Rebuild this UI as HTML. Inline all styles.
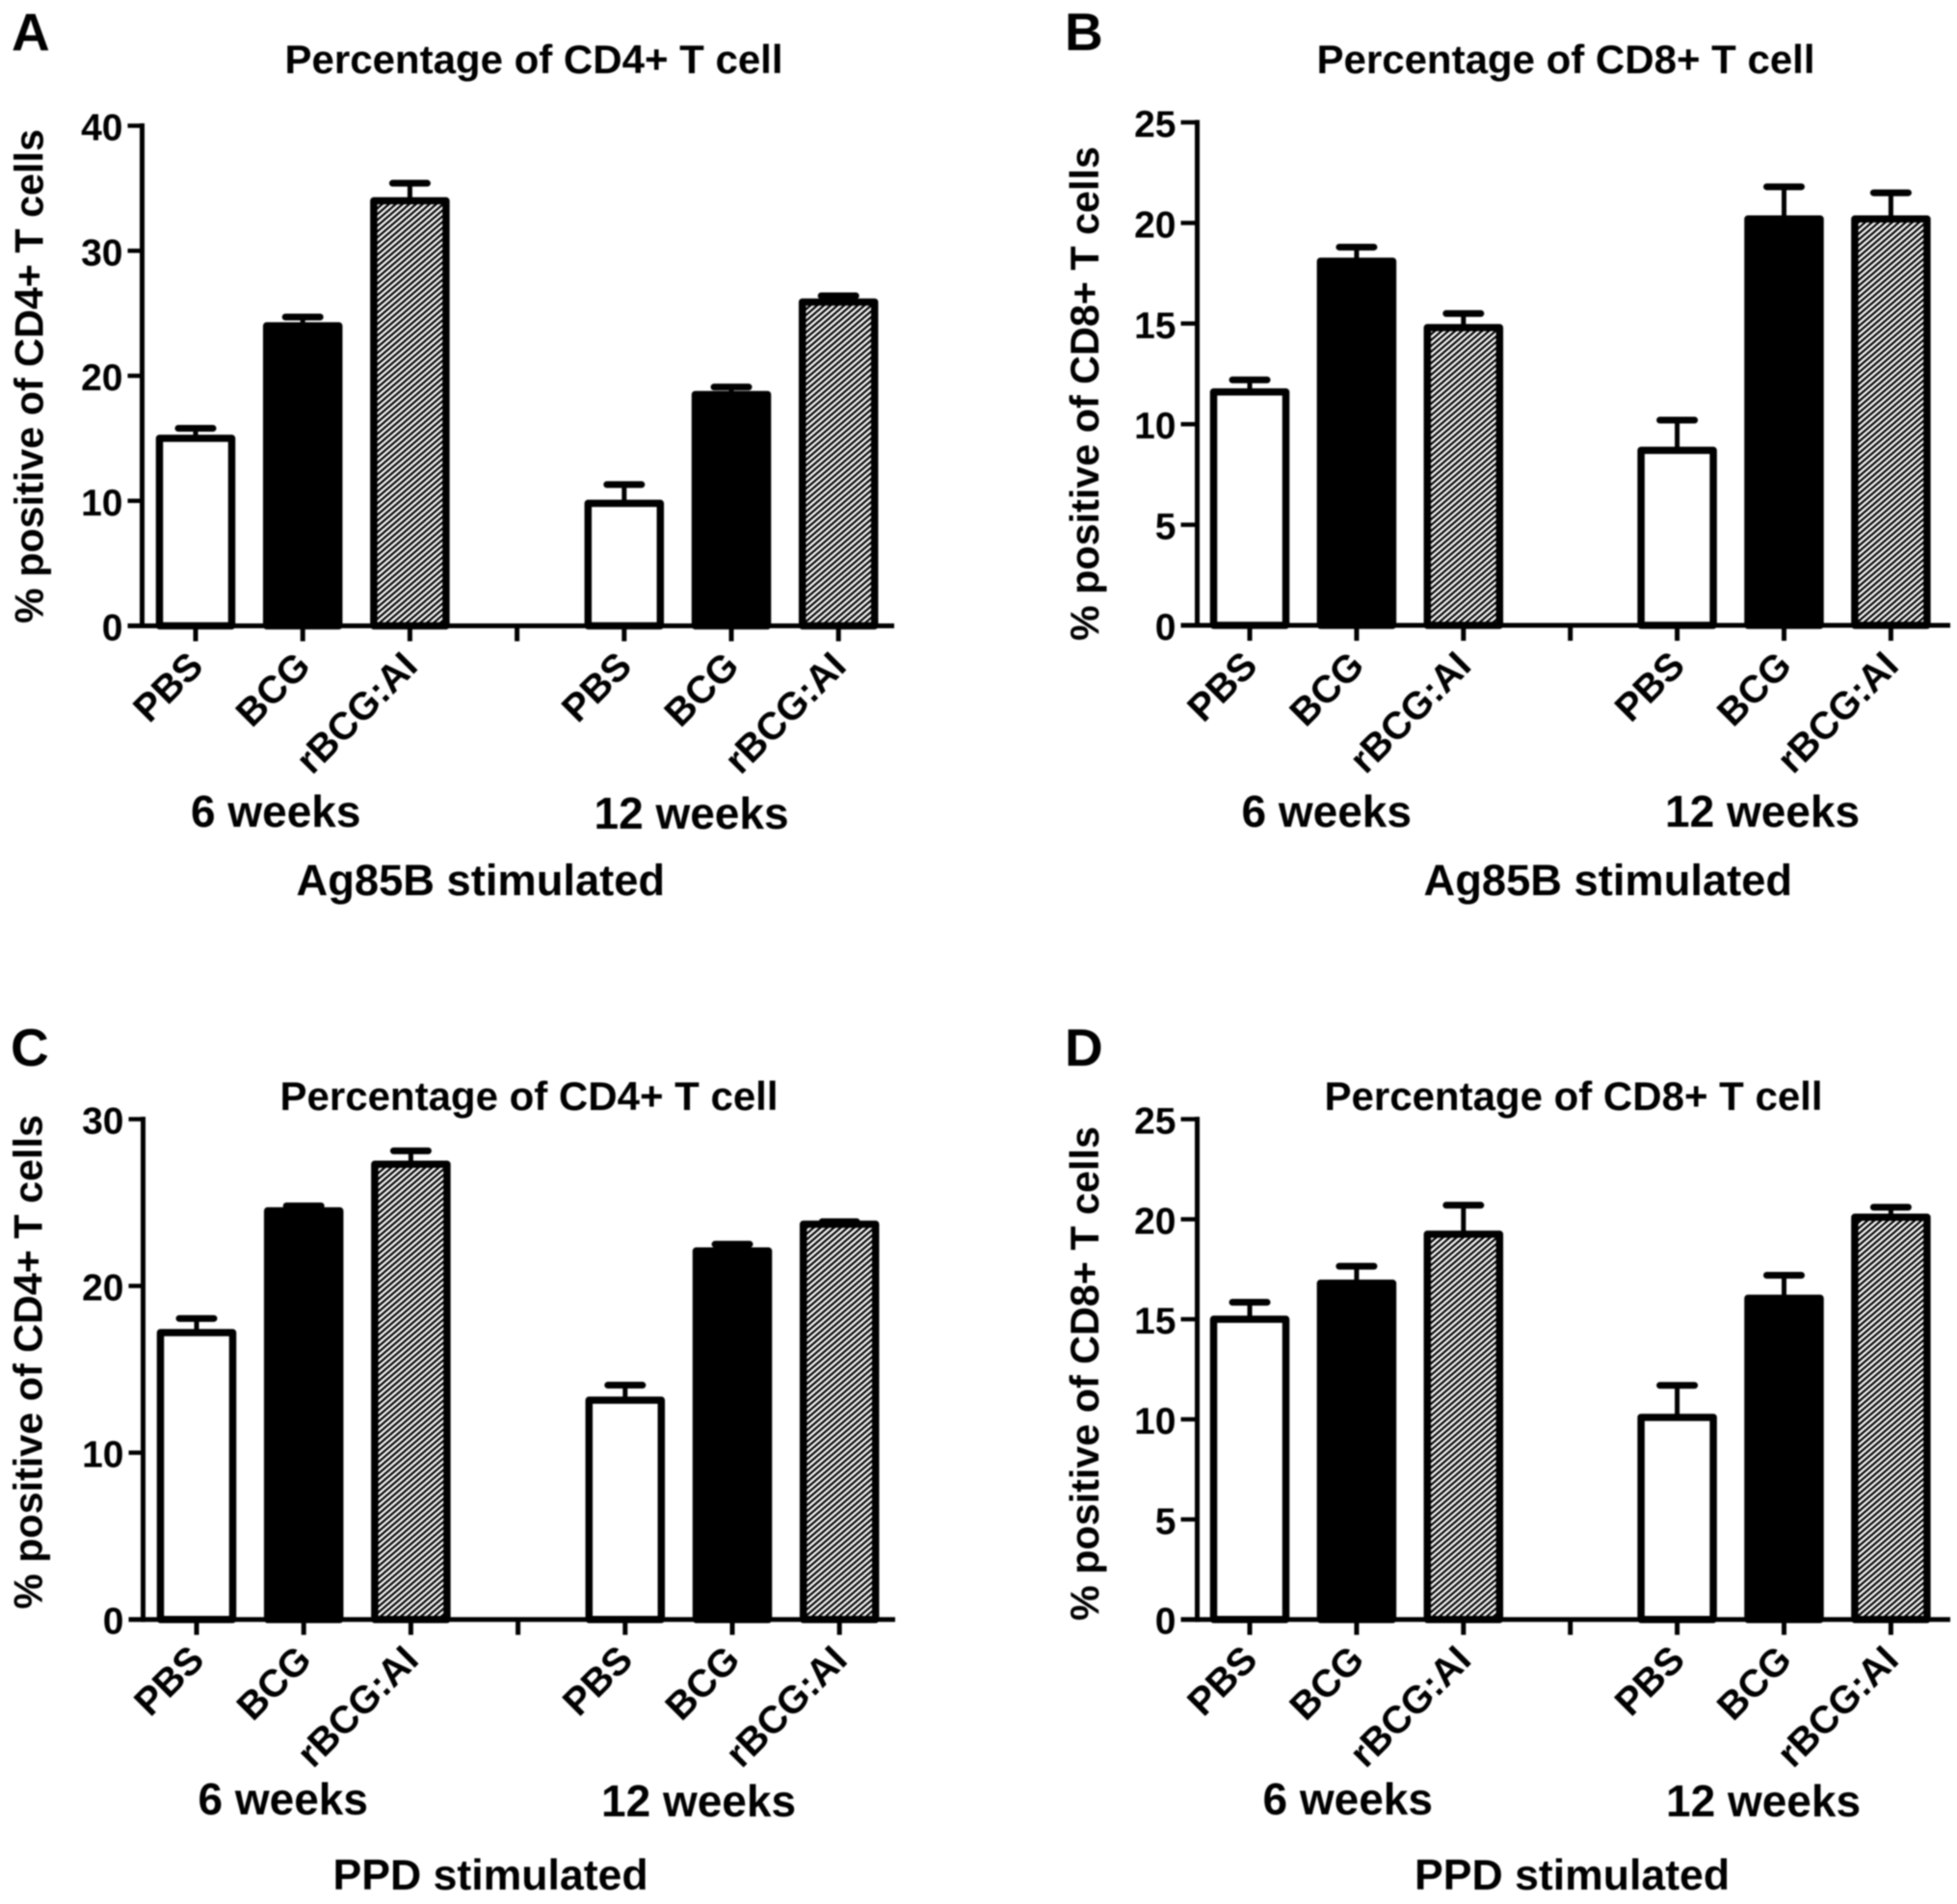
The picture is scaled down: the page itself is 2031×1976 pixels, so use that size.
<!DOCTYPE html>
<html lang="en">
<head>
<meta charset="utf-8">
<title>T cell percentages</title>
<style>
  html, body { margin: 0; padding: 0; background: #fff; }
  #figure { display: block; width: 2031px; height: 1976px; filter: blur(0.7px); }
  text { font-family: "Liberation Sans", Arial, sans-serif; font-weight: bold; fill: #000; }
</style>
</head>
<body>
<svg id="figure" xmlns="http://www.w3.org/2000/svg" width="2031" height="1976" viewBox="0 0 2031 1976">
  <defs>
    <pattern id="hatch" patternUnits="userSpaceOnUse" width="7" height="6">
      <rect width="7" height="6" fill="#fff"></rect>
      <path d="M-1.75,1.5 L1.75,-1.5 M0,6 L7,0 M5.25,7.5 L8.75,4.5" stroke="#000" stroke-width="2.2" fill="none"></path>
    </pattern>
  </defs>
  <rect width="2031" height="1976" fill="#fff"></rect>
</svg>
<script>
// ---- chart data ----
const categories = ['PBS', 'BCG', 'rBCG:AI', '', 'PBS', 'BCG', 'rBCG:AI'];
const barKinds = ['white', 'black', 'hatch', '', 'white', 'black', 'hatch'];
const groupLabels = ['6 weeks', '12 weeks'];

const ticksA = [0, 10, 20, 30, 40];
const valuesA = [15.0, 24.0, 34.0, null, 9.8, 18.5, 25.9];
const upperA = [15.8, 24.7, 35.4, null, 11.3, 19.1, 26.4];

const ticksB = [0, 5, 10, 15, 20, 25];
const valuesB = [11.6, 18.1, 14.8, null, 8.7, 20.2, 20.2];
const upperB = [12.2, 18.8, 15.5, null, 10.2, 21.8, 21.5];

const ticksC = [0, 10, 20, 30];
const valuesC = [17.2, 24.5, 27.3, null, 13.15, 22.1, 23.7];
const upperC = [18.05, 24.8, 28.1, null, 14.05, 22.5, 23.85];

const ticksD = [0, 5, 10, 15, 20, 25];
const valuesD = [15.0, 16.8, 19.25, null, 10.1, 16.05, 20.1];
const upperD = [15.85, 17.65, 20.7, null, 11.7, 17.2, 20.6];

// ---- drawing ----
const NS = 'http://www.w3.org/2000/svg';
const root = document.getElementById('figure');

function make(tag, geometry, parent) {
  const node = document.createElementNS(NS, tag);
  for (const key in geometry) node.setAttribute(key, geometry[key]);
  parent.appendChild(node);
  return node;
}

function drawPanel(p) {
  const g = make('g', {}, root);
  
  

  const yMax = Math.max(...p.ticks);
  const yScale = v => p.y0 - (v / yMax) * (p.y0 - p.yTop);
  const xScale = i => p.x0 + i * p.step;

  // panel letter
  const letter = make('text', { x: p.letterX, y: p.letterY, 'font-size': 55 }, g);
  letter.textContent = p.id;
  
  

  // title
  const title = make('text', { x: p.titleX, y: p.titleY, 'font-size': 42 }, g);
  title.textContent = p.title;
  
  

  // y-axis title
  const yTitle = make('text', {
    transform: 'translate(' + p.yTitleX + ',' + p.yTitleY + ') rotate(-90)',
    'font-size': 41.3
  }, g);
  yTitle.textContent = p.yTitle;
  
  

  // bars and error bars
  p.values.forEach((v, i) => {
    if (v === null) return;
    const cx = xScale(i);
    const top = yScale(v);
    const capY = yScale(p.upper[i]);

    const stem = make('line', { x1: cx, x2: cx, y1: top, y2: capY, stroke: '#000', 'stroke-width': 5 }, g);
    
    

    const cap = make('line', {
      x1: cx - 18, x2: cx + 18, y1: capY, y2: capY,
      stroke: '#000', 'stroke-width': 7, 'stroke-linecap': 'round'
    }, g);
    
    

    const kind = barKinds[i];
    const fill = kind === 'white' ? '#fff' : kind === 'black' ? '#000' : 'url(#hatch)';
    const bar = make('rect', {
      x: cx - 37.5, y: top, width: 75, height: Math.max(0, p.y0 - top),
      fill: fill, stroke: '#000', 'stroke-width': 7.5, 'stroke-linejoin': 'round'
    }, g);
    
    
  });

  // y axis
  const yAxis = make('line', {
    x1: p.axisX, x2: p.axisX, y1: p.yTop - 2.5, y2: p.y0 + 2.5, stroke: '#000', 'stroke-width': 5
  }, g);
  
  

  p.ticks.forEach(t => {
    const y = yScale(t);
    const mark = make('line', { x1: p.axisX - p.tickLen, x2: p.axisX, y1: y, y2: y, stroke: '#000', 'stroke-width': 4.5 }, g);
    
    

    const label = make('text', {
      x: p.axisX - p.tickLen - 5, y: y + 15, 'font-size': 39, 'text-anchor': 'end'
    }, g);
    label.textContent = String(t);
    
    
  });

  // x axis
  const xAxis = make('line', {
    x1: p.axisX - p.tickLen, x2: p.xEnd, y1: p.y0, y2: p.y0, stroke: '#000', 'stroke-width': 5
  }, g);
  
  

  categories.forEach((name, i) => {
    const x = xScale(i);
    const mark = make('line', { x1: x, x2: x, y1: p.y0, y2: p.y0 + 16, stroke: '#000', 'stroke-width': 5 }, g);
    
    
    if (!name) return;
    const label = make('text', {
      transform: 'translate(' + (x + 10) + ',' + (p.y0 + 44) + ') rotate(-45)',
      'font-size': 40, 'text-anchor': 'end'
    }, g);
    label.textContent = name;
    
    
  });

  // group labels
  const groupA = make('text', { x: p.group1X, y: p.group1Y, 'font-size': 46 }, g);
  groupA.textContent = groupLabels[0];
  
  

  const groupB = make('text', { x: p.group2X, y: p.group2Y, 'font-size': 46 }, g);
  groupB.textContent = groupLabels[1];
  
  

  // x-axis title
  const xTitle = make('text', { x: p.xTitleX, y: p.xTitleY, 'font-size': p.xTitleSize }, g);
  xTitle.textContent = p.xTitle;
  
  
}

drawPanel({
  id: 'A', title: 'Percentage of CD4+ T cell', yTitle: '% positive of CD4+ T cells', xTitle: 'Ag85B stimulated',
  ticks: ticksA, values: valuesA, upper: upperA,
  axisX: 147.5, tickLen: 15, yTop: 130.5, y0: 649.5, x0: 203, step: 111.2, xEnd: 928,
  letterX: 12, letterY: 52, titleX: 295.5, titleY: 76, yTitleX: 44.5, yTitleY: 647,
  group1X: 198, group1Y: 858, group2X: 616.5, group2Y: 860, xTitleX: 307.5, xTitleY: 929, xTitleSize: 45.3
});
drawPanel({
  id: 'B', title: 'Percentage of CD8+ T cell', yTitle: '% positive of CD8+ T cells', xTitle: 'Ag85B stimulated',
  ticks: ticksB, values: valuesB, upper: upperB,
  axisX: 1242.5, tickLen: 17, yTop: 127, y0: 649, x0: 1297, step: 110.9, xEnd: 2024,
  letterX: 1105, letterY: 52, titleX: 1366.5, titleY: 76, yTitleX: 1140, yTitleY: 665,
  group1X: 1288.5, group1Y: 858, group2X: 1728, group2Y: 858, xTitleX: 1477.5, xTitleY: 929, xTitleSize: 45.3
});
drawPanel({
  id: 'C', title: 'Percentage of CD4+ T cell', yTitle: '% positive of CD4+ T cells', xTitle: 'PPD stimulated',
  ticks: ticksC, values: valuesC, upper: upperC,
  axisX: 148.5, tickLen: 15, yTop: 1161.5, y0: 1680.7, x0: 204, step: 111.2, xEnd: 929,
  letterX: 11, letterY: 1106, titleX: 290.5, titleY: 1152, yTitleX: 43.5, yTitleY: 1670,
  group1X: 205.5, group1Y: 1883, group2X: 624, group2Y: 1885, xTitleX: 345.5, xTitleY: 1961, xTitleSize: 44.6
});
drawPanel({
  id: 'D', title: 'Percentage of CD8+ T cell', yTitle: '% positive of CD8+ T cells', xTitle: 'PPD stimulated',
  ticks: ticksD, values: valuesD, upper: upperD,
  axisX: 1242.5, tickLen: 17, yTop: 1161.5, y0: 1680.7, x0: 1297, step: 110.9, xEnd: 2024,
  letterX: 1105, letterY: 1106, titleX: 1374.5, titleY: 1152, yTitleX: 1140, yTitleY: 1682,
  group1X: 1310.5, group1Y: 1883, group2X: 1729, group2Y: 1885, xTitleX: 1468, xTitleY: 1961, xTitleSize: 44.6
});
</script>
</body>
</html>
